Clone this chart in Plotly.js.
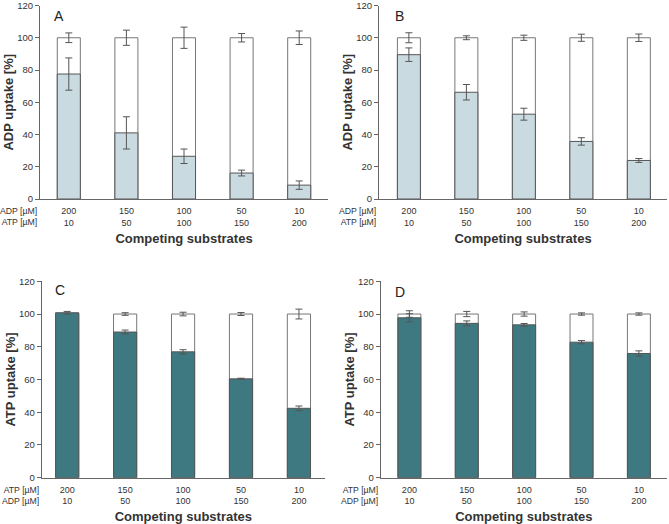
<!DOCTYPE html>
<html>
<head>
<meta charset="utf-8">
<script src="https://cdn.plot.ly/plotly-3.0.1.min.js"></script>
<style>html,body{margin:0;padding:0;background:#fff;}#chart{width:669px;height:524px;}</style>
</head>
<body>
<div id="chart"></div>
<script>
// ---- data ----
const positions = [0, 1, 2, 3, 4];
const concFirstRow = ['200', '150', '100', '50', '10'];
const concSecondRow = ['10', '50', '100', '150', '200'];
const totalUptake = [100, 100, 100, 100, 100];

// Panel A: ADP uptake
const adpUptakeA = [77.5, 41.0, 26.5, 16.1, 8.6];
const adpErrA = [10.0, 10.0, 4.5, 1.8, 2.6];
const totalErrA = [3.0, 4.7, 6.6, 2.6, 4.2];

// Panel B: ADP uptake
const adpUptakeB = [89.5, 66.2, 52.6, 35.7, 23.9];
const adpErrB = [4.2, 4.8, 3.7, 2.3, 1.2];
const totalErrB = [3.1, 1.2, 1.6, 2.2, 2.3];

// Panel C: ATP uptake
const atpUptakeC = [100.8, 89.0, 76.9, 60.4, 42.4];
const atpErrC = [0.8, 1.2, 1.3, 0.4, 1.4];
const totalErrC = [0.5, 0.8, 1.1, 0.9, 3.0];

// Panel D: ATP uptake
const atpUptakeD = [97.7, 94.3, 93.4, 82.8, 75.9];
const atpErrD = [2.5, 1.5, 0.8, 1.0, 1.6];
const totalErrD = [2.0, 1.6, 1.3, 0.7, 0.7];

const yTicks = [0, 20, 40, 60, 80, 100, 120];

// ---- styling ----
const lightBlue = '#c9dbe1';
const teal = '#3e7880';
const lineGray = '#555555';
const textGray = '#333333';
const FONT = 'Liberation Sans, Arial, sans-serif';

function tickText(a, b) { return a.map((v, i) => v + '<br>' + b[i]); }

function panel(xa, ya, fill, fillErr, totErr, color) {
  return [
    {
      type: 'bar', x: positions, y: totalUptake, xaxis: xa, yaxis: ya,
      width: 0.4, marker: {color: '#ffffff', line: {color: '#777777', width: 1}},
      error_y: {type: 'data', array: totErr, visible: true, color: lineGray, thickness: 1, width: 3.5},
      hoverinfo: 'skip', showlegend: false
    },
    {
      type: 'bar', x: positions, y: fill, xaxis: xa, yaxis: ya,
      width: 0.4, marker: {color: color, line: {color: lineGray, width: 1}},
      error_y: {type: 'data', array: fillErr, visible: true, color: lineGray, thickness: 1, width: 3.5},
      hoverinfo: 'skip', showlegend: false
    }
  ];
}

const data = [].concat(
  panel('x', 'y', adpUptakeA, adpErrA, totalErrA, lightBlue),
  panel('x2', 'y2', adpUptakeB, adpErrB, totalErrB, lightBlue),
  panel('x3', 'y3', atpUptakeC, atpErrC, totalErrC, teal),
  panel('x4', 'y4', atpUptakeD, atpErrD, totalErrD, teal)
);

const W = 669, H = 524;
function px(x) { return x / W; }
function py(y) { return 1 - y / H; }

function xAxis(dom, anchor, rng) {
  return {
    domain: [px(dom[0]), px(dom[1])], anchor: anchor, range: rng,
    tickmode: 'array', tickvals: positions,
    showgrid: false, zeroline: false, showline: true, linecolor: '#666666', linewidth: 1,
    ticks: '', ticklabelstandoff: 3, tickfont: {family: FONT, size: 9, color: textGray},
    title: {text: 'Competing substrates', font: {family: FONT, size: 13, color: textGray, weight: 'bold'}, standoff: 7},
    fixedrange: true
  };
}
function yAxis(dom, anchor, title) {
  return {
    domain: [py(dom[1]), py(dom[0])], anchor: anchor, range: [0, 120],
    tickmode: 'array', tickvals: yTicks,
    showgrid: false, zeroline: false, showline: true, linecolor: '#666666', linewidth: 1,
    ticks: 'outside', ticklen: 4, tickcolor: '#666666', tickwidth: 1,
    ticklabeloverflow: 'allow',
    tickfont: {family: FONT, size: 9.5, color: textGray},
    title: {text: title, font: {family: FONT, size: 13, color: textGray, weight: 'bold'}, standoff: 0},
    fixedrange: true
  };
}

const xA = xAxis([40, 328], 'y', [-0.5, 4.5]);
xA.ticktext = tickText(concFirstRow, concSecondRow);
const xB = xAxis([379, 667], 'y2', [-0.52, 4.49]);
xB.ticktext = tickText(concFirstRow, concSecondRow);
const xC = xAxis([41.7, 325], 'y3', [-0.44, 4.45]);
xC.ticktext = tickText(concFirstRow, concSecondRow);
const xD = xAxis([380.7, 667], 'y4', [-0.5, 4.49]);
xD.ticktext = tickText(concFirstRow, concSecondRow);

function rowLabel(xr, yc, text) {
  return {xref: 'paper', yref: 'paper', x: px(xr), y: py(yc), xanchor: 'right', yanchor: 'middle',
    text: text, showarrow: false, align: 'right', borderpad: 0,
    font: {family: FONT, size: 8.7, color: textGray}};
}
function letter(x, y, t) {
  return {xref: 'paper', yref: 'paper', x: px(x), y: py(y), xanchor: 'left', yanchor: 'middle',
    text: t, showarrow: false, font: {family: FONT, size: 14, color: '#222222'}};
}

const layout = {
  width: W, height: H,
  margin: {l: 0, r: 0, t: 0, b: 0},
  paper_bgcolor: '#ffffff', plot_bgcolor: '#ffffff',
  barmode: 'overlay',
  showlegend: false,
  xaxis: xA, yaxis: yAxis([5.5, 199], 'x', 'ADP uptake [%]'),
  xaxis2: xB, yaxis2: yAxis([5.5, 199], 'x2', 'ADP uptake [%]'),
  xaxis3: xC, yaxis3: yAxis([281.3, 477.7], 'x3', 'ATP uptake [%]'),
  xaxis4: xD, yaxis4: yAxis([281.3, 477.7], 'x4', 'ATP uptake [%]'),
  annotations: [
    rowLabel(38, 216.5, 'ADP [µM]<br>ATP [µM]'),
    rowLabel(377, 216.5, 'ADP [µM]<br>ATP [µM]'),
    rowLabel(39.5, 495.5, 'ATP [µM]<br>ADP [µM]'),
    rowLabel(378.5, 495.5, 'ATP [µM]<br>ADP [µM]'),
    letter(52, 16, 'A'), letter(393, 16, 'B'), letter(53, 290, 'C'), letter(393, 292, 'D')
  ]
};

Plotly.newPlot('chart', data, layout, {staticPlot: true, displayModeBar: false});
</script>
</body>
</html>
